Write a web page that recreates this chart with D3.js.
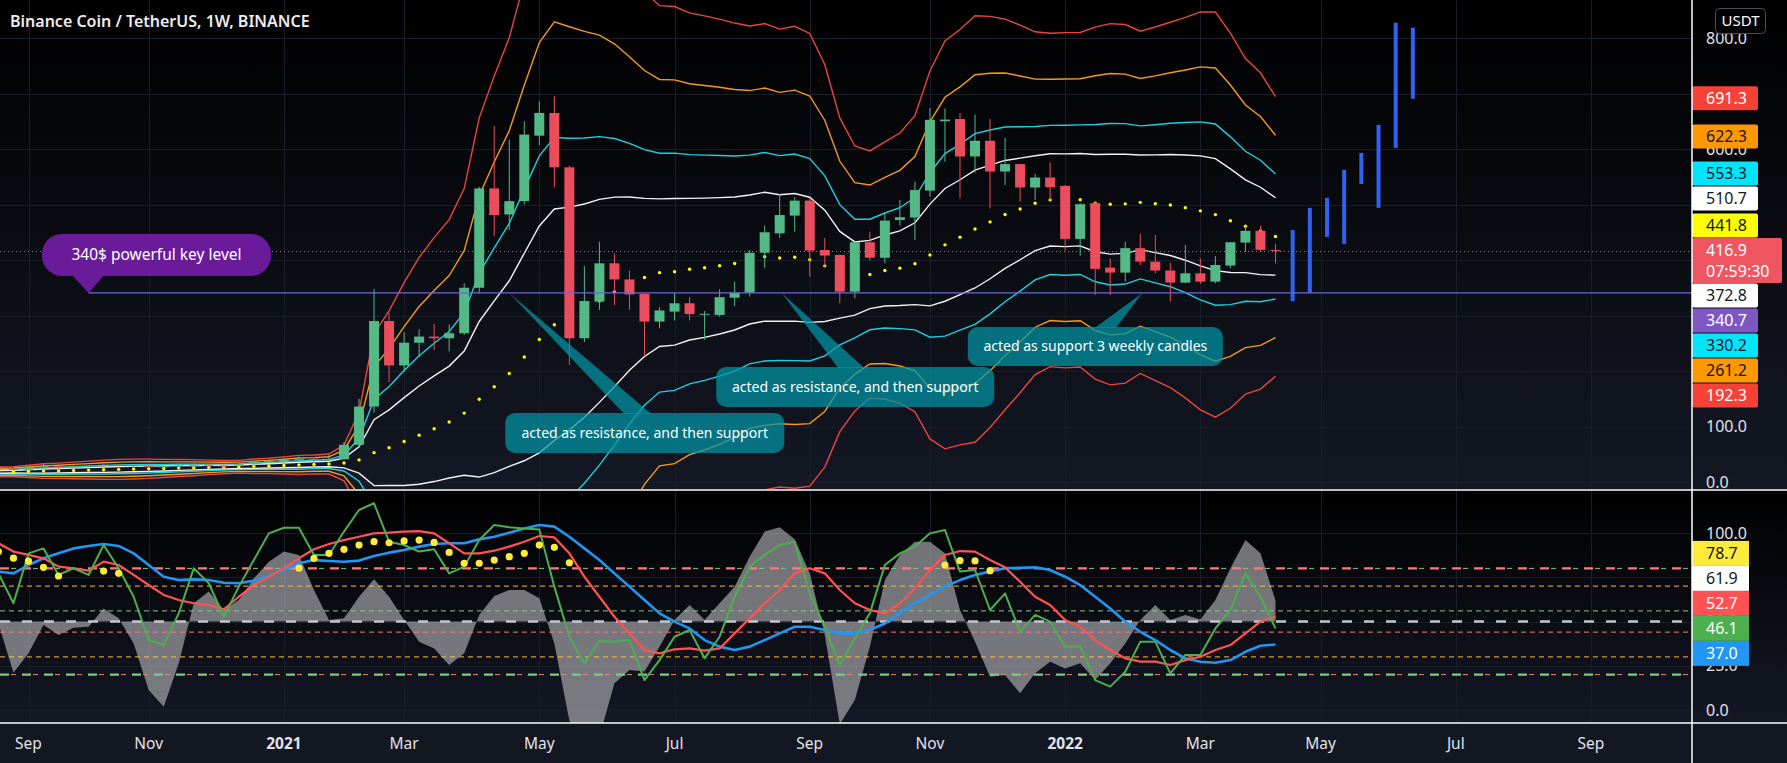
<!DOCTYPE html>
<html><head><meta charset="utf-8">
<script src="https://cdn.jsdelivr.net/npm/d3@7"></script>
<style>
html,body{margin:0;padding:0;background:#000;}
svg{display:block;font-family:"Noto Sans","Open Sans",sans-serif;}
</style></head><body>
<svg id="chart" width="1787" height="763"></svg>
<script>
// ---------------- DATA ----------------
const title = "Binance Coin / TetherUS, 1W, BINANCE";
const firstWeek = "2020-08-24";   // first weekly candle shown
// weekly OHLC, 2020-08-24 .. 2022-04-11
const open = [22.3,23.6,21.9,27.0,28.3,26.8,28.8,29.6,30.9,30.4,
  28.5,27.0,28.3,30.0,30.2,29.8,29.5,32.0,37.2,37.4,
  40.3,42.0,39.9,41.0,67.0,136,290,210,251,262,
  259,268,350,529,482,506,624,665,567,259,
  325,394,365,339,289,307,322,302.5,301,332,
  341,413,448,480,507,418,409,343,432,404,
  472,476.5,525,650,654,586.5,614.8,559.4,572.8,530.6,
  548.6,533.6,438,502.4,386.3,377.3,421.3,397,381,359.3,
  376,361,390,431.4,452.5,418.2];
const high = [24.0,25.6,27.8,33.0,29.0,29.8,30.4,32.0,31.7,31.0,
  30.0,29.0,30.9,33.7,31.7,31.0,33.5,39.0,41.0,44.5,
  46.0,44.5,50.0,72.0,150,348,305,270,275,285,
  284,358,532,642,617,650,686,695,570,389,
  433,412,381,340,315,340,333,308,347,361,
  418,462,519,513,512,440,410,433,451,486,
  508,541,674,673,665,662,654,620,573,555,
  576,535,502,505,403,433,447,445,395,427,
  403,407,432,461.5,461.5,429];
const low = [21.9,20.2,21.4,26.0,22.5,26.0,27.0,28.8,28.5,26.6,
  26.5,26.8,27.5,26.7,28.5,27.0,29.3,30.5,35.0,33.5,
  36.0,36.0,37.0,40.0,62,125,180,199,225,238,
  235,265,340,443,454,500,607,531,211,252,
  310,319,310,229,277,291,291,256,298,317,
  334,386,440,451,370,388,322,331,400,394,
  462,436,514,577,511,557.6,493,535,505,508,
  507,417,408,337,337,361,391,376,325,358,
  357,358,385,415,416,394];
const close = [23.6,21.9,27.0,28.3,26.8,28.8,29.6,30.9,30.4,28.5,
  27.0,28.3,30.0,30.2,29.8,29.5,32.0,37.2,37.4,40.3,
  42.0,39.9,41.0,67.0,136,290,210,251,262,259,
  268,350,529,481,506,626,665,567,259,326,
  394,365,338,289,309,322,302.5,303,333,341,
  413,450,481,507,417,408,343,432,404,471,
  477,526,652.6,653,586.5,614.8,559.4,572.8,530.6,548.6,
  531.2,438,500.6,384,377.3,421.3,397,381,359.3,376,
  361,391,432,452.5,418.2,416.9];
// weekly closes before the first visible candle (needed by the 20-week bands)
const priorCloses = [15.9,16.9,17.3,16.0,16.2,16.8,17.2,17.6,17.1,17.3,15.9,16.1,17.5,17.7,19.5,21.0,22.5,21.8,22.3];
const bandLength = 20;
const bandMults = [3.618, 2.618, 1.618, 1];

// projected ranges (blue bars)
const projDates = ["2022-04-19","2022-04-27","2022-05-05","2022-05-13","2022-05-21","2022-05-29","2022-06-06","2022-06-14"];
const projLow  = [326, 340.7, 441.7, 429, 537, 494, 602, 690.5];
const projHigh = [454, 494, 512, 562.5, 593, 643.6, 827.5, 818.5];

// key level & current price
const keyLevel = 340.7, keyLevelStart = "2020-10-05";
const lastPrice = 416.9, countdown = "07:59:30";

// lower oscillator pane (same weeks as candles)
const oscGreen = [77.2,60.3,88.5,91.3,76.3,80.1,76.3,93.2,80.1,64.0,
  39.5,36.7,54.6,80.1,71.6,52.7,69.7,84.7,99.8,103.0,
  103.0,87.6,87.6,100.8,113.0,116.8,95.1,93.2,89.5,90.8,
  77.2,81.0,96.0,104.5,103.2,102.6,102.0,69.7,41.4,26.3,
  39.0,38.6,39.5,16.9,28.2,41.4,45.2,29.2,41.4,64.0,
  81.0,87.6,93.2,95.1,65.9,47.0,25.4,40.5,54.6,81.9,
  88.5,92.3,99.8,101.7,78.2,79.1,56.5,65.9,44.2,53.7,
  49.9,35.8,35.8,16.9,13.2,21.6,38.6,38.6,20.7,31.1,
  31.1,46.1,56.5,77.2,64.0,46.1];
const oscRed = [94.2,89.5,87.6,85.7,81.0,80.1,78.7,83.8,81.9,76.3,
  70.6,65.0,62.1,60.3,59.3,56.9,64.0,70.6,75.3,80.1,
  85.7,90.8,93.8,96.0,97.9,99.8,100.2,100.8,101.1,99.8,
  94.2,88.5,88.5,90.0,92.3,95.1,98.3,97.5,88.5,75.3,
  64.0,52.7,43.3,33.9,32.0,34.3,34.8,33.5,34.8,43.3,
  51.8,60.3,67.8,77.2,80.1,77.2,67.8,60.3,56.5,54.6,
  60.3,68.7,79.1,87.6,89.8,89.5,84.7,80.6,72.5,64.0,
  59.3,50.8,47.0,39.5,33.9,29.2,27.3,27.3,25.4,28.2,
  30.1,33.9,36.7,43.3,49.9,52.7];
const oscBlue = [78.2,77.2,81.9,85.7,88.5,91.3,92.7,93.8,92.7,88.5,
  81.9,75.3,73.4,73.8,73.4,71.9,71.6,73.1,75.7,79.1,
  82.9,84.7,84.2,83.8,84.4,87.0,88.9,90.4,92.3,93.8,
  94.2,94.2,96.4,97.9,100.2,102.6,104.5,103.6,97.9,91.3,
  84.7,77.2,69.7,62.1,54.6,49.9,46.1,39.5,35.8,33.9,
  35.8,39.5,43.3,47.0,47.0,45.2,43.3,43.3,45.2,48.9,
  54.6,60.3,64.9,69.7,73.4,76.3,78.2,80.1,80.4,80.6,
  79.1,75.3,70.6,64.0,57.4,49.9,44.2,39.5,33.9,29.2,
  27.3,26.7,28.2,32.9,36.3,37.0];
const oscArea = [48.8,21.1,32.0,48.0,42.4,46.5,47.1,57.4,51.8,37.6,
  11.3,1.9,26.4,60.3,66.9,56.5,62.1,74.4,83.8,89.5,
  87.6,67.8,50.8,51.8,64.0,73.8,64.0,50.8,38.6,34.8,
  25.4,32.0,53.7,64.4,67.8,67.8,63.1,37.6,-6.0,-25.0,
  -15.0,15.1,22.6,21.7,35.8,50.8,59.3,50.8,60.3,69.7,
  86.6,100.8,103.2,96.4,77.2,42.4,-8.0,5.6,35.8,73.4,
  87.6,95.1,95.1,88.5,56.5,38.6,18.8,19.8,9.4,20.7,
  27.3,23.5,26.4,16.9,26.4,37.6,50.8,59.3,50.8,53.7,
  51.2,62.1,80.1,96.0,88.5,61.9];
const oscAreaBase = 50;
// yellow signal dots: week number (0 = first candle) and value
const oscDotWeek = [0,1,2,3,4,7,8,20,21,22,23,24,25,26,27,28,29,30,31,32,33,34,35,36,37,38,63,64,65,66];
const oscDotVal  = [89.5,85.8,84.1,80.6,75.7,78.5,77.2,80.1,85.7,88.5,90.8,93.2,95.1,94.5,95.5,96.0,94.7,89.0,82.9,82.9,84.7,86.6,88.5,93.2,91.9,83.2,81.9,84.4,84.2,78.7];
const oscLevels = [80, 70, 56, 50, 44, 30, 20];

// axes
const priceTicks = [0,100,200,300,400,500,600,700,800];
const oscTicks = [0,25,50,75,100];
const timeTickDates = ["2020-09-07","2020-11-02","2021-01-04","2021-03-01","2021-05-03","2021-07-05","2021-09-06","2021-11-01","2022-01-03","2022-03-07","2022-05-02","2022-07-04","2022-09-05"];
const timeTickLabels = ["Sep","Nov","2021","Mar","May","Jul","Sep","Nov","2022","Mar","May","Jul","Sep"];

// right-axis value badges (last values)
const mainBadgeVals = [691.3, 622.3, 553.3, 510.7, 441.8, 416.9, 372.8, 340.7, 330.2, 261.2, 192.3];
const oscBadgeVals = [78.7, 61.9, 52.7, 46.1, 37.0];

// annotations
const notes = [
  {text:"340$ powerful key level", date:"2020-10-05", value:340.7, kind:"purple"},
  {text:"acted as resistance, and then support", date:"2021-04-19", value:340.7, kind:"teal1"},
  {text:"acted as resistance, and then support", date:"2021-08-24", value:340.7, kind:"teal2"},
  {text:"acted as support 3 weekly candles", date:"2022-02-08", value:340.7, kind:"teal3"}
];

// ---------------- LAYOUT / STYLE ----------------
const W = 1787, H = 763;
const plotR = 1692;
const mainB = 489, lowT = 490, lowB = 723;
const upCol = "#53b987", downCol = "#eb4d5c";
const bandCols = ["#e8463f", "#f59a1b", "#1fd0dc", "#f2f2f2"];
const mainBadgeStyle = [
  ["#f44336","#fff"],["#ff9800","#131722"],["#00e5ff","#131722"],["#ffffff","#131722"],["#ffff00","#131722"],
  ["#f05662","#fff"],["#ffffff","#131722"],["#7e57c2","#fff"],["#00e5ff","#131722"],["#ff9800","#131722"],["#f44336","#fff"]];
const oscBadgeStyle = [["#ffeb3b","#131722"],["#ffffff","#131722"],["#ff5252","#fff"],["#4caf50","#fff"],["#2196f3","#fff"]];
const levelStyle = {
  80:[{c:"#f77c80",w:2.2,d:"9,13",o:0},{c:"#81c784",w:1,d:"5,17",o:-11}],
  70:[{c:"#ffb74d",w:1,d:"5,4",o:0}],
  56:[{c:"#8fbf8f",w:1,d:"5,4",o:0}],
  50:[{c:"#c3c5cb",w:2.6,d:"10,12",o:0}],
  44:[{c:"#f77c80",w:1,d:"5,4",o:0}],
  30:[{c:"#ffb74d",w:1,d:"5,4",o:0}],
  20:[{c:"#81c784",w:2.2,d:"9,13",o:0},{c:"#f77c80",w:1,d:"5,17",o:-11}]
};
const noteBox = {
  purple:{dx:-46.6,dy:-59,w:229,h:42,r:20,fill:"#6a1b9a",fs:15.5,tail:[30,62],tailSide:"bottom"},
  teal1:{dx:-4,dy:120,w:279,h:40,r:10,fill:"rgba(0,150,166,0.72)",fs:14,tail:[119,146],tailSide:"top"},
  teal2:{dx:-65.6,dy:74,w:278,h:40,r:10,fill:"rgba(0,150,166,0.72)",fs:14,tail:[122,148],tailSide:"top"},
  teal3:{dx:-174.6,dy:34,w:255,h:39,r:10,fill:"rgba(0,150,166,0.72)",fs:14,tail:[127,148],tailSide:"top"}
};

// ---------------- SCALES ----------------
const parse = s => new Date(s + "T00:00:00Z");
const dates = open.map((_, i) => d3.utcDay.offset(parse(firstWeek), 7 * i));
const x = d3.scaleUtc().domain([parse("2020-09-07"), parse("2022-09-05")]).range([28.5, 1591]);
const yM = d3.scaleLinear().domain([0, 800]).range([482, 38]);
const yL = d3.scaleLinear().domain([0, 100]).range([710, 533]);

// Bollinger-type bands from closes
const allCloses = priorCloses.concat(close);
const basis = [], sdev = [];
close.forEach((_, i) => {
  const win = allCloses.slice(i + priorCloses.length - bandLength + 1, i + priorCloses.length + 1);
  const m = d3.mean(win);
  basis.push(m);
  sdev.push(Math.sqrt(d3.mean(win, v => (v - m) * (v - m))));
});

// ---------------- DRAW ----------------
const svg = d3.select("#chart");
const defs = svg.append("defs");
const gr = defs.append("linearGradient").attr("id", "bg").attr("x1", 0).attr("y1", 0).attr("x2", 0).attr("y2", 1);
gr.append("stop").attr("offset", "0%").attr("stop-color", "#000000");
gr.append("stop").attr("offset", "100%").attr("stop-color", "#141824");
defs.append("clipPath").attr("id", "cm").append("rect").attr("x", 0).attr("y", 0).attr("width", plotR).attr("height", mainB);
defs.append("clipPath").attr("id", "cl").append("rect").attr("x", 0).attr("y", lowT + 1).attr("width", plotR).attr("height", lowB - lowT - 1);

svg.append("rect").attr("width", W).attr("height", mainB).attr("fill", "url(#bg)");
svg.append("rect").attr("y", lowT).attr("width", W).attr("height", lowB - lowT).attr("fill", "url(#bg)");
svg.append("rect").attr("y", lowB).attr("width", W).attr("height", H - lowB).attr("fill", "#131722");

// grid
const grid = svg.append("g").attr("stroke", "#1a1e28").attr("stroke-width", 1);
timeTickDates.forEach(d => {
  const xx = Math.round(x(parse(d))) + 0.5;
  grid.append("line").attr("x1", xx).attr("x2", xx).attr("y1", 0).attr("y2", mainB);
  grid.append("line").attr("x1", xx).attr("x2", xx).attr("y1", lowT).attr("y2", lowB);
});
priceTicks.forEach(v => { const yy = Math.round(yM(v)) + 0.5; grid.append("line").attr("x1", 0).attr("x2", plotR).attr("y1", yy).attr("y2", yy); });
oscTicks.forEach(v => { const yy = Math.round(yL(v)) + 0.5; grid.append("line").attr("x1", 0).attr("x2", plotR).attr("y1", yy).attr("y2", yy); });

// ---- main pane ----
const mainG = svg.append("g").attr("clip-path", "url(#cm)");
const lineGen = d3.line().x((d, i) => x(dates[i])).y(d => yM(d));
bandMults.forEach((k, j) => {
  [1, -1].forEach(s => {
    mainG.append("path").datum(basis.map((b, i) => b + s * k * sdev[i]))
      .attr("d", lineGen).attr("fill", "none").attr("stroke", bandCols[j]).attr("stroke-width", 1.4);
  });
});
mainG.append("g").selectAll("circle").data(basis).join("circle")
  .attr("cx", (d, i) => x(dates[i])).attr("cy", d => yM(d)).attr("r", 1.7).attr("fill", "#ffff00");

// candles
const cw = 10;
const cg = mainG.append("g");
close.forEach((c, i) => {
  const xx = x(dates[i]);
  const col = c >= open[i] ? upCol : downCol;
  cg.append("line").attr("x1", xx).attr("x2", xx).attr("y1", yM(high[i])).attr("y2", yM(low[i])).attr("stroke", col).attr("stroke-width", 1);
  const top = yM(Math.max(open[i], c)), bot = yM(Math.min(open[i], c));
  cg.append("rect").attr("x", xx - cw / 2).attr("y", top).attr("width", cw).attr("height", Math.max(1, bot - top)).attr("fill", col);
});

// projection bars
mainG.append("g").selectAll("rect").data(projDates).join("rect")
  .attr("x", d => x(parse(d)) - 2).attr("width", 4)
  .attr("y", (d, i) => yM(projHigh[i])).attr("height", (d, i) => yM(projLow[i]) - yM(projHigh[i]))
  .attr("fill", "#2f62f0");

// key level line & current price line
mainG.append("line").attr("x1", x(parse(keyLevelStart))).attr("x2", plotR).attr("y1", yM(keyLevel)).attr("y2", yM(keyLevel))
  .attr("stroke", "#6f68d8").attr("stroke-width", 1.3);
mainG.append("line").attr("x1", 0).attr("x2", plotR).attr("y1", Math.round(yM(lastPrice)) + 0.5).attr("y2", Math.round(yM(lastPrice)) + 0.5)
  .attr("stroke", "#f05662").attr("stroke-width", 1).attr("stroke-dasharray", "1,3");

// annotations
notes.forEach(n => {
  const s = noteBox[n.kind];
  const ax = x(parse(n.date)), ay = yM(n.value);
  const bx = ax + s.dx, by = ay + s.dy;
  const ty = s.tailSide === "top" ? by + 1 : by + s.h - 1;
  mainG.append("path").attr("d", `M${ax},${ay}L${bx + s.tail[0]},${ty}L${bx + s.tail[1]},${ty}Z`).attr("fill", s.fill);
  mainG.append("rect").attr("x", bx).attr("y", by).attr("width", s.w).attr("height", s.h).attr("rx", s.r).attr("fill", s.fill);
  mainG.append("text").attr("x", bx + s.w / 2).attr("y", by + s.h / 2).attr("dy", "0.35em").attr("text-anchor", "middle")
    .attr("fill", "#ffffff").attr("font-size", s.fs).text(n.text);
});

// ---- lower pane ----
const lowG = svg.append("g").attr("clip-path", "url(#cl)");
lowG.append("path").datum(oscArea)
  .attr("d", d3.area().x((d, i) => x(dates[i])).y0(yL(oscAreaBase)).y1(d => yL(d)))
  .attr("fill", "rgba(205,205,210,0.55)");
oscLevels.forEach(v => {
  levelStyle[v].forEach(st => {
    lowG.append("line").attr("x1", 0).attr("x2", plotR).attr("y1", yL(v)).attr("y2", yL(v))
      .attr("stroke", st.c).attr("stroke-width", st.w).attr("stroke-dasharray", st.d).attr("stroke-dashoffset", st.o);
  });
});
const oLine = d3.line().x((d, i) => x(dates[i])).y(d => yL(d));
[[oscBlue, "#2196f3", 2.6], [oscRed, "#ff5252", 2.2], [oscGreen, "#4caf50", 2]].forEach(([arr, c, w]) => {
  lowG.append("path").datum(arr).attr("d", oLine).attr("fill", "none").attr("stroke", c).attr("stroke-width", w).attr("stroke-linejoin", "round");
});
lowG.append("g").selectAll("circle").data(oscDotVal).join("circle")
  .attr("cx", (d, i) => x(dates[oscDotWeek[i]])).attr("cy", d => yL(d)).attr("r", 3.6).attr("fill", "#ffeb3b");

// ---- badges with stacking (positions needed to know which tick labels stay visible) ----
function stack(vals, scale, anchorIdx, h, anchorBottom) {
  const pos = vals.map(v => scale(v));
  const out = pos.slice();
  let top = pos[anchorIdx] - h / 2;
  for (let k = anchorIdx - 1; k >= 0; k--) { out[k] = Math.min(pos[k], top - h / 2); top = out[k] - h / 2; }
  let bot = pos[anchorIdx] + anchorBottom;
  for (let k = anchorIdx + 1; k < vals.length; k++) { out[k] = Math.max(pos[k], bot + h / 2); bot = out[k] + h / 2; }
  return out;
}
const bh = 25;
const mainIdx = mainBadgeVals.indexOf(lastPrice);
const mPos = stack(mainBadgeVals, yM, mainIdx, bh, 32.5);
const oIdx = 3;
const oPos = stack(oscBadgeVals, yL, oIdx, bh, 12.5);
const boxes = mPos.map((p, i) => i === mainIdx ? [p - 12.5, p + 32.5] : [p - 12, p + 12])
  .concat(oPos.map(p => [p - 12.5, p + 12.5]));
const hidden = yy => boxes.some(([a, b]) => a <= yy - 6 && b >= yy + 6);

// ---- axes ----
const axT = svg.append("g").attr("fill", "#e0e3eb").attr("font-size", 16);
priceTicks.filter(v => !hidden(yM(v))).forEach(v => axT.append("text").attr("x", 1706).attr("y", yM(v)).attr("dy", "0.35em").text(v.toFixed(1)));
oscTicks.filter(v => !hidden(yL(v))).forEach(v => axT.append("text").attr("x", 1706).attr("y", yL(v)).attr("dy", "0.35em").text(v.toFixed(1)));
timeTickDates.forEach((d, i) => {
  const bold = /^\d{4}$/.test(timeTickLabels[i]);
  axT.append("text").attr("x", x(parse(d))).attr("y", 744).attr("dy", "0.35em").attr("text-anchor", "middle")
    .attr("font-size", 15.5).attr("font-weight", bold ? 700 : 400).text(timeTickLabels[i]);
});

const bgB = svg.append("g").attr("font-size", 16);
mainBadgeVals.forEach((v, i) => {
  const [bg, fg] = mainBadgeStyle[i];
  if (i === mainIdx) {
    bgB.append("rect").attr("x", 1692).attr("y", mPos[i] - 12.5).attr("width", 90).attr("height", 45).attr("rx", 2).attr("fill", bg);
    bgB.append("text").attr("x", 1706).attr("y", mPos[i]).attr("dy", "0.35em").attr("fill", fg).text(v.toFixed(1));
    bgB.append("text").attr("x", 1706).attr("y", mPos[i] + 21).attr("dy", "0.35em").attr("fill", fg).text(countdown);
  } else {
    bgB.append("rect").attr("x", 1692).attr("y", mPos[i] - 12).attr("width", 66).attr("height", 24).attr("rx", 2).attr("fill", bg);
    bgB.append("text").attr("x", 1706).attr("y", mPos[i]).attr("dy", "0.35em").attr("fill", fg).text(v.toFixed(1));
  }
});
oscBadgeVals.forEach((v, i) => {
  const [bg, fg] = oscBadgeStyle[i];
  bgB.append("rect").attr("x", 1692).attr("y", oPos[i] - 12.5).attr("width", 57).attr("height", 25).attr("fill", bg);
  bgB.append("text").attr("x", 1706).attr("y", oPos[i]).attr("dy", "0.35em").attr("fill", fg).text(v.toFixed(1));
});

// currency box
svg.append("rect").attr("x", 1715.5).attr("y", 8.5).attr("width", 50).attr("height", 25).attr("rx", 4)
  .attr("fill", "#000").attr("stroke", "#4a4e5a");
svg.append("text").attr("x", 1740.5).attr("y", 21).attr("dy", "0.35em").attr("text-anchor", "middle")
  .attr("fill", "#ffffff").attr("font-size", 15).text("USDT");

// separators
const sep = svg.append("g").attr("stroke", "#ffffff").attr("stroke-width", 1.5);
sep.append("line").attr("x1", 0).attr("x2", W).attr("y1", 490).attr("y2", 490);
sep.append("line").attr("x1", 0).attr("x2", W).attr("y1", lowB).attr("y2", lowB);
sep.append("line").attr("x1", plotR).attr("x2", plotR).attr("y1", 0).attr("y2", H);

// title
svg.append("text").attr("x", 10).attr("y", 21).attr("dy", "0.35em").attr("fill", "#ececec")
  .attr("font-size", 16).attr("font-weight", 600).text(title);
</script></body></html>
